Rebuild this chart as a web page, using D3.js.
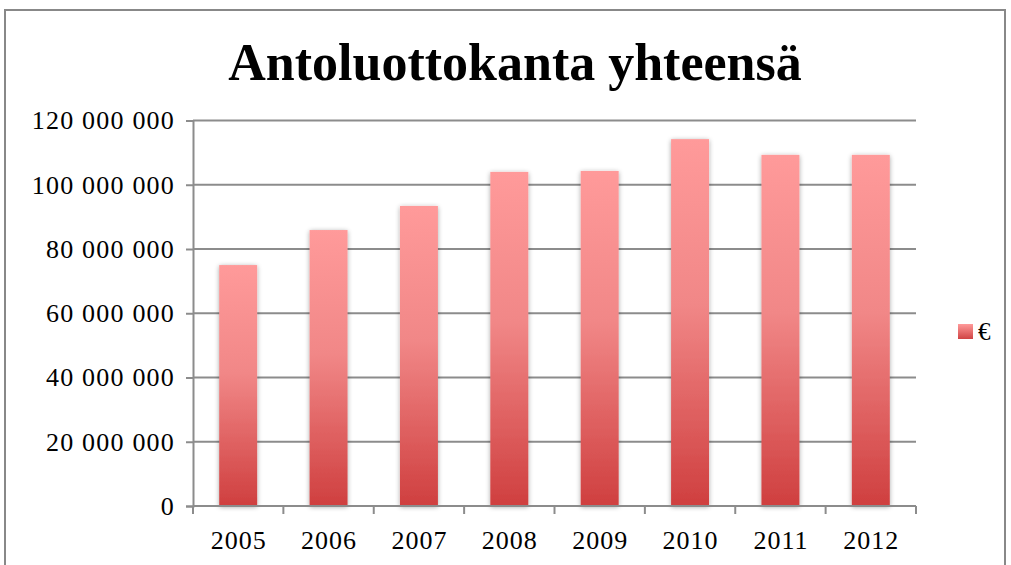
<!DOCTYPE html>
<html>
<head>
<meta charset="utf-8">
<script src="https://cdn.jsdelivr.net/npm/d3@7"></script>
<style>
  body { margin: 0; background: #fff; }
  text { font-family: "Liberation Serif", serif; fill: #000; }
</style>
</head>
<body>
<div id="chart"></div>
<script>
// chart data
var years = ["2005", "2006", "2007", "2008", "2009", "2010", "2011", "2012"]
var values = [75000000, 85900000, 93400000, 104000000, 104300000, 114200000, 109300000, 109300000]
var yTicks = [0, 20000000, 40000000, 60000000, 80000000, 100000000, 120000000]
var title = "Antoluottokanta yhteensä"
var seriesName = "€"

var w = 1011
var h = 565

var svg = d3.select("#chart").append("svg")
    .attr("width", w)
    .attr("height", h)

// gradient + shadow
var defs = svg.append("defs")
var grad = defs.append("linearGradient")
    .attr("id", "barGrad")
    .attr("x1", 0).attr("y1", 0).attr("x2", 0).attr("y2", 1)
grad.append("stop").attr("offset", "0%").attr("stop-color", "#ff9a9a")
grad.append("stop").attr("offset", "45%").attr("stop-color", "#f18787")
grad.append("stop").attr("offset", "100%").attr("stop-color", "#cf3f3f")

var legGrad = defs.append("linearGradient")
    .attr("id", "legGrad")
    .attr("x1", 0).attr("y1", 0).attr("x2", 0).attr("y2", 1)
legGrad.append("stop").attr("offset", "0%").attr("stop-color", "#ff9a9a")
legGrad.append("stop").attr("offset", "100%").attr("stop-color", "#d04444")

var shadow = defs.append("filter")
    .attr("id", "shadow")
    .attr("x", "-30%").attr("y", "-10%").attr("width", "160%").attr("height", "120%")
shadow.append("feGaussianBlur").attr("in", "SourceAlpha").attr("stdDeviation", 2.5)
shadow.append("feOffset").attr("dx", 0).attr("dy", 1).attr("result", "blur")
shadow.append("feComponentTransfer").append("feFuncA").attr("type", "linear").attr("slope", 0.35)
var merge = shadow.append("feMerge")
merge.append("feMergeNode")
merge.append("feMergeNode").attr("in", "SourceGraphic")

// outer frame
svg.append("rect")
    .attr("x", 5).attr("y", 10)
    .attr("width", 1000).attr("height", 570)
    .attr("fill", "none")
    .attr("stroke", "#888")
    .attr("stroke-width", 2)

// title
svg.append("text")
    .attr("x", 515)
    .attr("y", 80)
    .attr("text-anchor", "middle")
    .attr("font-size", 52)
    .attr("font-weight", "bold")
    .text(title)

// plot area bounds
var plotLeft = 193, plotRight = 916, plotTop = 120.5, plotBottom = 506
var x = d3.scaleBand().domain(years).range([plotLeft, plotRight]).paddingInner(0.58).paddingOuter(0.29)
var y = d3.scaleLinear().domain([0, 120000000]).range([plotBottom, plotTop])

var fmt = function(d) { return d3.format(",")(d).replace(/,/g, " ") }

// gridlines
svg.append("g")
    .selectAll("line")
    .data(yTicks.filter(function(d) { return d > 0 }))
    .enter()
    .append("line")
    .attr("x1", plotLeft).attr("x2", plotRight)
    .attr("y1", function(d) { return y(d) }).attr("y2", function(d) { return y(d) })
    .attr("stroke", "#8c8c8c")
    .attr("stroke-width", 2)

// y axis
var yAxis = svg.append("g")
    .attr("transform", "translate(" + plotLeft + ",0)")
    .call(d3.axisLeft(y).tickValues(yTicks).tickSize(7).tickPadding(11).tickFormat(fmt))
yAxis.selectAll("text")
    .attr("font-size", 26)
    .attr("fill", "#000")
    .attr("letter-spacing", 1.2)
    .style("font-family", "'Liberation Serif', serif")
yAxis.selectAll("line").attr("stroke", "#8c8c8c").attr("stroke-width", 2)
yAxis.select(".domain").attr("stroke", "#8c8c8c").attr("stroke-width", 2)

// bars
svg.append("g")
    .selectAll("rect")
    .data(values)
    .enter()
    .append("rect")
    .attr("x", function(d, i) { return x(years[i]) })
    .attr("y", function(d) { return y(d) })
    .attr("width", x.bandwidth())
    .attr("height", function(d) { return plotBottom - y(d) })
    .attr("fill", "url(#barGrad)")
    .attr("filter", "url(#shadow)")

// x axis (ticks between categories)
var xAxisG = svg.append("g")
    .attr("transform", "translate(0," + plotBottom + ")")
xAxisG.append("line")
    .attr("x1", plotLeft).attr("x2", plotRight)
    .attr("stroke", "#8c8c8c").attr("stroke-width", 2)
xAxisG.selectAll("line.tick")
    .data(d3.range(years.length + 1))
    .enter()
    .append("line")
    .attr("class", "tick")
    .attr("x1", function(i) { return plotLeft + i * x.step() })
    .attr("x2", function(i) { return plotLeft + i * x.step() })
    .attr("y1", 0).attr("y2", 8)
    .attr("stroke", "#8c8c8c").attr("stroke-width", 2)
xAxisG.selectAll("text")
    .data(years)
    .enter()
    .append("text")
    .attr("x", function(d) { return x(d) + x.bandwidth() / 2 + 0.5 })
    .attr("y", 43)
    .attr("text-anchor", "middle")
    .attr("font-size", 26)
    .attr("letter-spacing", 1)
    .text(function(d) { return d })

// legend
svg.append("rect")
    .attr("x", 958).attr("y", 324)
    .attr("width", 15).attr("height", 15)
    .attr("fill", "url(#legGrad)")
svg.append("text")
    .attr("x", 978).attr("y", 340)
    .attr("font-size", 25)
    .text(seriesName)
</script>
</body>
</html>
